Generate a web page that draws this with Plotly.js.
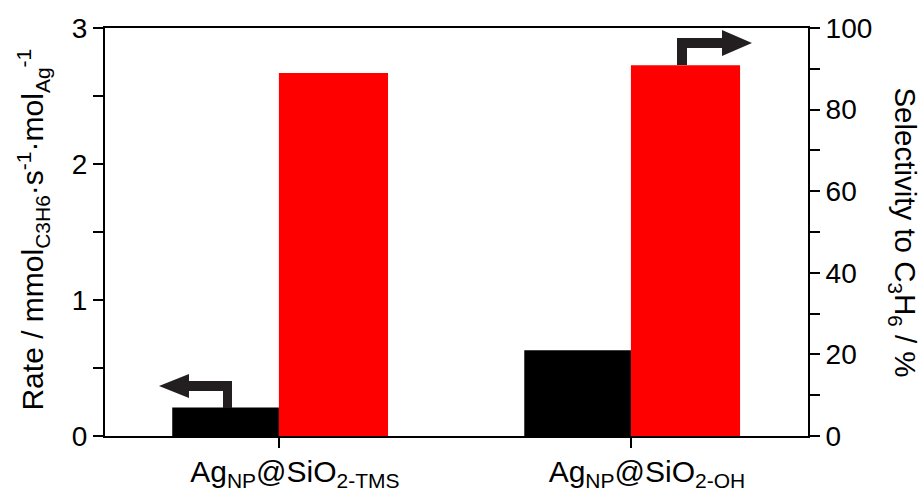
<!DOCTYPE html>
<html><head><meta charset="utf-8">
<script src="https://cdn.plot.ly/plotly-3.0.1.min.js"></script>
<style>html,body{margin:0;padding:0;background:#fff}#c{width:923px;height:491px}</style>
</head><body><div id="c"></div>
<script>
const categories = ["Ag<sub>NP</sub>@SiO<sub>2-TMS</sub>", "Ag<sub>NP</sub>@SiO<sub>2-OH</sub>"];
const rate = [0.21, 0.63];
const selectivity = [89.0, 90.9];
const rateTicks = [0, 1, 2, 3];
const selTicks = [0, 20, 40, 60, 80, 100];

const W = 923, H = 491, L = 105, R = 115, T = 28, B = 55;
const xr = [-0.494, 1.503], yr = [0, 3];
// helper: pixel position (for decorative arrows) -> data coords of x / y axes
function px2d(px, py) {
  const pw = W - L - R, ph = H - T - B;
  return [xr[0] + (px - L) / pw * (xr[1] - xr[0]), yr[0] + (H - B - py) / ph * (yr[1] - yr[0])];
}
function pathFrom(pts) {
  return pts.map((p, i) => { const d = px2d(p[0], p[1]); return (i ? 'L' : 'M') + d[0].toFixed(4) + ',' + d[1].toFixed(4); }).join(' ') + ' Z';
}
const arrowLeft = [[159,386],[189,374],[189,381],[232,381],[232,408],[223,408],[223,391],[189,391],[189,398]];
const arrowRight = [[677,65],[677,38],[722,38],[722,30],[752,43],[722,56],[722,48],[687,48],[687,65]];

const font = "Liberation Sans, Arial, Helvetica, sans-serif";
const xs = categories.map((c, i) => i);
const traces = [
  {type: 'bar', x: xs, y: rate, width: 0.303, offset: -0.303, marker: {color: '#000000', line: {width: 0}}, yaxis: 'y', name: 'Rate'},
  {type: 'bar', x: xs, y: selectivity, width: 0.31, offset: 0, marker: {color: '#ff0000', line: {width: 0}}, yaxis: 'y2', name: 'Selectivity'}
];
const layout = {
  width: W, height: H, margin: {l: L, r: R, t: T, b: B},
  paper_bgcolor: '#fff', plot_bgcolor: '#fff', showlegend: false, barmode: 'overlay',
  font: {family: font, color: '#000', size: 28},
  xaxis: {range: xr, tickvals: xs, ticktext: categories, showgrid: false, zeroline: false,
    showline: true, mirror: true, linecolor: '#000', linewidth: 2, ticks: 'outside', ticklen: 10, tickwidth: 2,
    tickcolor: '#000', tickfont: {size: 30, family: font}, ticklabelshift: 16, ticklabelstandoff: -2},
  yaxis: {range: yr, tickvals: rateTicks, showgrid: false, zeroline: false, showline: true, linecolor: '#000', linewidth: 2,
    ticks: 'outside', ticklen: 10, tickwidth: 2, tickcolor: '#000', tickfont: {size: 28, family: font},
    minor: {dtick: 0.5, ticks: 'outside', ticklen: 10, tickwidth: 2, tickcolor: '#000', showgrid: false}},
  yaxis2: {range: [0, 100], tickvals: selTicks, overlaying: 'y', side: 'right', showgrid: false, zeroline: false,
    showline: true, linecolor: '#000', linewidth: 2, ticks: 'outside', ticklen: 10, tickwidth: 2, tickcolor: '#000',
    tickfont: {size: 28, family: font},
    minor: {dtick: 10, ticks: 'outside', ticklen: 10, tickwidth: 2, tickcolor: '#000', showgrid: false}},
  shapes: [
    {type: 'path', xref: 'x', yref: 'y', path: pathFrom(arrowLeft), fillcolor: '#231f20', line: {width: 0}, layer: 'above'},
    {type: 'path', xref: 'x', yref: 'y', path: pathFrom(arrowRight), fillcolor: '#231f20', line: {width: 0}, layer: 'above'}
  ],
  annotations: [
    {xref: 'paper', yref: 'paper', x: -0.103, y: 0.505, xanchor: 'center', yanchor: 'middle', showarrow: false, textangle: -90,
     text: 'Rate / mmol<sub>C3H6</sub>·s<sup>-1</sup>·mol<sub>Ag</sub><sup>-1</sup>', font: {size: 30, family: font}},
    {xref: 'paper', yref: 'paper', x: 1.136, y: 0.5, xanchor: 'center', yanchor: 'middle', showarrow: false, textangle: 90,
     text: 'Selectivity to C<sub>3</sub>H<sub>6</sub> / %', font: {size: 29.5, family: font}}
  ]
};
Plotly.newPlot('c', traces, layout, {staticPlot: true});
</script></body></html>
